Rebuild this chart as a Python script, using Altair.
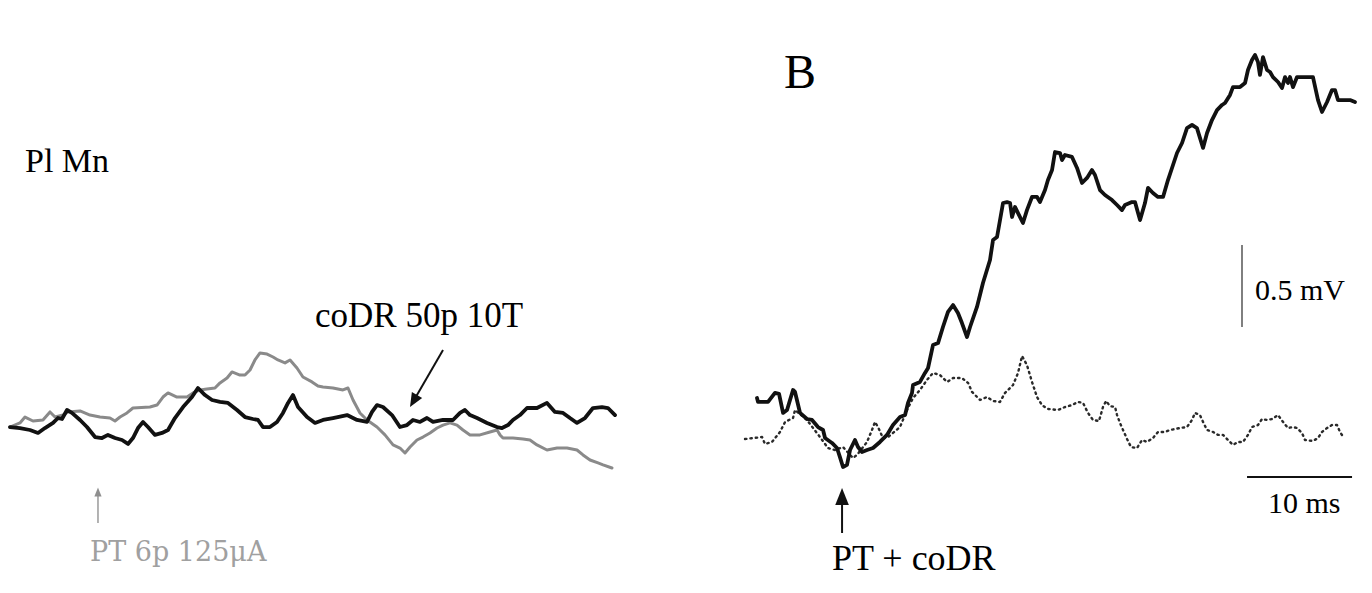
import altair as alt
import pandas as pd

# ---------------- Panel A (time in ms, potential in mV) ----------------
a_black_t = [0, 0.95, 1.90, 2.67, 3.33, 4.10, 4.57, 4.95, 5.43, 5.90, 6.67, 7.33, 8.10, 8.76, 9.33, 10.0,
             10.67, 11.24, 11.71, 12.19, 12.67, 13.14, 13.81, 14.48, 15.05, 15.71, 16.48, 17.33, 17.90,
             18.57, 19.24, 20.0, 20.76, 21.62, 22.38, 23.14, 23.62, 24.10, 24.76, 25.43, 26.0, 26.48,
             26.95, 27.43, 28.29, 29.05, 29.81, 30.76, 32.10, 33.05, 34.0, 34.48, 34.95, 35.52, 36.38,
             37.14, 37.81, 38.38, 39.05, 39.71, 40.29, 41.24, 42.19, 42.86, 43.33, 43.81, 44.48, 45.43,
             46.38, 46.86, 47.43, 47.90, 48.57, 49.24, 50.19, 51.14, 51.90, 52.67, 53.33, 54.0, 54.76,
             55.52, 56.38, 56.95, 57.62]
a_black_v = [0.018, 0.012, 0, -0.018, 0.012, 0.043, 0.073, 0.067, 0.122, 0.104, 0.061, 0.018, -0.043,
             -0.049, -0.030, -0.049, -0.061, -0.085, -0.049, 0.012, 0.049, 0.018, -0.030, -0.018, 0,
             0.073, 0.140, 0.201, 0.256, 0.213, 0.183, 0.171, 0.165, 0.122, 0.079, 0.067, 0.061, 0.018,
             0.018, 0.049, 0.104, 0.165, 0.213, 0.140, 0.079, 0.043, 0.061, 0.073, 0.091, 0.061, 0.049,
             0.110, 0.152, 0.140, 0.091, 0.018, 0.030, 0.061, 0.049, 0.073, 0.049, 0.061, 0.061, 0.104,
             0.122, 0.091, 0.073, 0.043, 0.018, 0.012, 0.030, 0.061, 0.091, 0.134, 0.134, 0.165, 0.110,
             0.104, 0.073, 0.043, 0.073, 0.134, 0.140, 0.134, 0.091]

a_gray_t = [0, 0.95, 1.43, 2.19, 3.14, 3.81, 4.29, 5.05, 5.52, 6.67, 7.62, 8.57, 9.52, 10.0, 10.48,
            11.14, 11.71, 13.33, 14.0, 14.57, 15.05, 15.90, 16.86, 17.43, 18.10, 18.76, 19.52, 20.0,
            20.67, 21.14, 21.90, 22.38, 22.86, 23.33, 23.81, 24.48, 25.05, 25.52, 26.19, 26.67, 27.33,
            27.90, 28.76, 29.33, 29.81, 30.76, 31.71, 32.19, 32.67, 33.33, 34.0, 34.95, 35.71, 36.48,
            37.14, 37.62, 38.10, 38.76, 39.33, 40.0, 40.67, 41.24, 41.90, 42.57, 43.14, 43.81, 44.76,
            45.71, 46.38, 46.67, 46.95, 47.90, 48.86, 49.52, 50.19, 51.14, 52.10, 53.05, 54.0, 54.57,
            55.24, 56.0, 56.48, 57.33]
a_gray_v = [0.018, 0.043, 0.079, 0.055, 0.061, 0.110, 0.079, 0.091, 0.110, 0.116, 0.091, 0.079, 0.073,
            0.055, 0.079, 0.104, 0.134, 0.140, 0.152, 0.201, 0.226, 0.201, 0.201, 0.226, 0.244, 0.250,
            0.256, 0.287, 0.317, 0.354, 0.335, 0.335, 0.366, 0.427, 0.470, 0.463, 0.445, 0.427, 0.409,
            0.427, 0.378, 0.323, 0.293, 0.268, 0.262, 0.256, 0.244, 0.256, 0.183, 0.104, 0.061, 0.018,
            -0.030, -0.091, -0.110, -0.140, -0.104, -0.061, -0.043, -0.018, 0.012, 0.030, 0.043, 0.030,
            0, -0.030, -0.030, -0.012, 0, -0.030, -0.049, -0.049, -0.055, -0.061, -0.091, -0.122, -0.110,
            -0.110, -0.122, -0.152, -0.183, -0.201, -0.213, -0.232]

# ---------------- Panel B ----------------
b_solid_t = [0, 0.1, 1.05, 1.71, 2.10, 2.48, 2.86, 3.43, 3.62, 4.10, 4.76, 5.24, 5.81, 6.29, 6.48, 7.14,
             7.62, 7.90, 8.19, 8.57, 8.86, 9.33, 9.62, 10.0, 10.48, 11.05, 11.71, 12.38, 12.95, 13.62,
             14.10, 14.38, 14.76, 14.86, 15.52, 16.0, 16.29, 16.76, 17.24, 17.71, 18.19, 18.67, 19.14,
             19.52, 20.0, 20.29, 20.95, 21.52, 22.19, 22.48, 22.86, 23.43, 23.81, 24.10, 24.29, 24.57,
             24.86, 25.33, 25.71, 26.19, 26.67, 26.95, 27.43, 27.71, 28.10, 28.38, 28.86, 29.05, 29.33,
             30.0, 30.48, 30.95, 31.43, 31.90, 32.19, 32.67, 33.14, 33.81, 34.29, 34.76, 35.05, 35.71,
             36.0, 36.29, 36.48, 36.95, 37.24, 37.71, 38.19, 38.67, 39.14, 39.62, 40.0, 40.48, 40.95,
             41.43, 41.90, 42.48, 42.86, 43.33, 43.81, 44.29, 44.57, 45.05, 45.33, 46.0, 46.48, 46.76,
             47.14, 47.43, 47.71, 47.90, 48.19, 48.57, 48.86, 49.14, 49.62, 50.0, 50.29, 50.57, 50.76,
             51.05, 51.43, 52.95, 53.43, 53.81, 54.29, 54.76, 55.05, 55.33, 56.48, 56.95]
b_solid_v = [0.195, 0.171, 0.171, 0.226, 0.220, 0.104, 0.122, 0.244, 0.232, 0.104, 0.067, 0.061, 0.018,
             0, -0.049, -0.079, -0.110, -0.165, -0.226, -0.213, -0.122, -0.061, -0.104, -0.134, -0.122,
             -0.110, -0.073, -0.030, 0.030, 0.079, 0.091, 0.165, 0.226, 0.274, 0.293, 0.348, 0.378,
             0.518, 0.530, 0.628, 0.720, 0.762, 0.713, 0.652, 0.567, 0.628, 0.750, 0.896, 1.037, 1.159,
             1.177, 1.384, 1.390, 1.384, 1.299, 1.360, 1.323, 1.262, 1.341, 1.421, 1.421, 1.390, 1.463,
             1.524, 1.585, 1.695, 1.689, 1.646, 1.677, 1.665, 1.598, 1.506, 1.537, 1.585, 1.555, 1.463,
             1.433, 1.402, 1.372, 1.341, 1.372, 1.390, 1.390, 1.323, 1.280, 1.384, 1.476, 1.445, 1.421,
             1.421, 1.524, 1.616, 1.689, 1.750, 1.841, 1.860, 1.841, 1.720, 1.811, 1.890, 1.951, 1.982,
             1.994, 2.043, 2.091, 2.091, 2.116, 2.195, 2.256, 2.287, 2.244, 2.165, 2.274, 2.195, 2.183,
             2.152, 2.122, 2.085, 2.152, 2.116, 2.152, 2.091, 2.152, 2.152, 2.012, 1.939, 2.000, 2.073,
             2.073, 2.012, 2.012, 2.000]

b_dot_t = [-1.14, 0.48, 0.76, 1.43, 2.19, 2.67, 3.43, 3.62, 4.76, 6.0, 6.76, 7.43, 8.19, 9.14, 9.52,
           10.48, 10.95, 11.24, 11.52, 12.0, 12.48, 12.95, 13.62, 14.29, 14.86, 15.52, 16.19, 16.76,
           17.43, 18.10, 18.67, 19.52, 20.10, 20.48, 21.24, 21.90, 22.48, 23.14, 23.62, 24.38, 24.86,
           25.24, 25.71, 26.19, 26.67, 27.14, 27.71, 28.67, 29.33, 30.0, 30.57, 31.05, 31.52, 32.0,
           32.57, 32.95, 33.24, 33.62, 34.10, 34.29, 34.57, 34.86, 35.24, 35.62, 36.19, 36.67, 37.14,
           37.71, 38.19, 38.86, 39.33, 40.29, 40.95, 41.43, 41.71, 42.19, 42.48, 42.86, 43.43, 43.90,
           44.38, 44.86, 45.33, 45.81, 46.29, 46.76, 47.14, 47.71, 48.10, 48.57, 49.05, 49.62, 50.10,
           50.57, 51.05, 51.43, 51.90, 52.19, 52.95, 53.43, 53.81, 54.29, 54.76, 55.24, 55.52, 55.90]
b_dot_v = [-0.055, -0.043, -0.085, -0.073, -0.012, 0.049, 0.073, 0.122, 0.061, -0.043, -0.110, -0.122,
           -0.104, -0.171, -0.152, -0.073, 0, 0.049, 0.018, -0.049, -0.043, -0.018, 0.018, 0.122, 0.195,
           0.244, 0.305, 0.348, 0.335, 0.293, 0.317, 0.317, 0.287, 0.232, 0.183, 0.201, 0.177, 0.171,
           0.226, 0.274, 0.348, 0.451, 0.396, 0.293, 0.201, 0.152, 0.128, 0.122, 0.140, 0.152, 0.171,
           0.165, 0.104, 0.061, 0.055, 0.140, 0.177, 0.146, 0.140, 0.091, 0.043, 0, -0.055, -0.104,
           -0.110, -0.061, -0.073, -0.049, -0.012, -0.012, 0, 0.012, 0.018, 0.061, 0.104, 0.091, 0.049,
           0, -0.012, -0.030, -0.030, -0.061, -0.091, -0.073, -0.073, -0.030, 0.018, 0.030, 0.067,
           0.061, 0.067, 0.091, 0.049, 0.012, 0.018, 0.012, -0.018, -0.061, -0.067, -0.049, -0.012,
           0.012, 0.030, 0.030, -0.012, -0.049]

# ---------------- Scales ----------------
XA = alt.Scale(domain=[-0.952, 64.381], nice=False, zero=False)
XB = alt.Scale(domain=[-6.762, 58.571], nice=False, zero=False)
YS = alt.Scale(domain=[-0.994, 2.622], nice=False, zero=False)
FONT = "Liberation Serif"


def df(t, v):
    return pd.DataFrame({"t": t, "v": v})


def enc(ch, xs):
    return ch.encode(x=alt.X("t:Q", scale=xs, axis=None), y=alt.Y("v:Q", scale=YS, axis=None))


def trace(t, v, xs, color, width, dash=None):
    kw = dict(color=color, strokeWidth=width, strokeJoin="round", strokeCap="round", clip=False)
    if dash is not None:
        kw["strokeDash"] = dash
    return enc(alt.Chart(df(t, v)).mark_line(**kw), xs)


def label(t, v, text, xs, size, color="black", align="left", font=FONT):
    d = pd.DataFrame({"t": [t], "v": [v], "s": [text]})
    return enc(alt.Chart(d).mark_text(font=font, fontSize=size, color=color, align=align,
                                      baseline="alphabetic"), xs).encode(text="s:N")


def seg(t1, v1, t2, v2, xs, color, width):
    d = pd.DataFrame({"t": [t1], "v": [v1], "t2": [t2], "v2": [v2]})
    return alt.Chart(d).mark_rule(color=color, strokeWidth=width).encode(
        x=alt.X("t:Q", scale=xs, axis=None), y=alt.Y("v:Q", scale=YS, axis=None),
        x2="t2:Q", y2="v2:Q")


def head(t, v, xs, color, size, angle, half=0.8):
    d = pd.DataFrame({"t": [t], "v": [v]})
    shape = f"M0,-1L{half},1L-{half},1Z"
    return enc(alt.Chart(d).mark_point(shape=shape, filled=True, color=color, size=size,
                                       angle=angle, opacity=1, strokeWidth=0), xs)


panel_a = alt.layer(
    trace(a_gray_t, a_gray_v, XA, "#8a8a8a", 3.0),
    trace(a_black_t, a_black_v, XA, "#111111", 3.8),
    label(1.43, 1.573, "Pl Mn", XA, 34),
    label(29.05, 0.628, "coDR 50p 10T", XA, 35),
    seg(41.24, 0.488, 38.43, 0.177, XA, "#111111", 2),
    head(38.43, 0.177, XA, "#111111", 196, 210, 0.85),
    seg(8.38, -0.567, 8.38, -0.378, XA, "#9a9a9a", 1.5),
    head(8.38, -0.378, XA, "#8f8f8f", 81, 0, 0.8),
    label(7.62, -0.799, "PT 6p 125\u03bcA", XA, 27, color="#a0a0a0", font="DejaVu Serif"),
).properties(width=686, height=593)

panel_b = alt.layer(
    trace(b_dot_t, b_dot_v, XB, "#2a2a2a", 2.4, dash=[1.4, 4.0]),
    trace(b_solid_t, b_solid_v, XB, "#111111", 3.8),
    label(4.10, 2.085, "B", XB, 48, align="center"),
    seg(46.19, 1.128, 46.19, 0.628, XB, "#555555", 1.5),
    label(47.43, 0.793, "0.5 mV", XB, 30),
    seg(46.67, -0.287, 56.67, -0.287, XB, "#111111", 2),
    label(48.67, -0.506, "10 ms", XB, 30),
    seg(8.10, -0.628, 8.10, -0.405, XB, "#111111", 2),
    head(8.10, -0.405, XB, "#111111", 289, 0, 0.8),
    label(7.14, -0.854, "PT + coDR", XB, 36),
).properties(width=686, height=593)

chart = alt.hconcat(panel_a, panel_b, spacing=0).properties(
    padding=0, background="white"
).configure_view(stroke=None).configure_concat(spacing=0)

chart.save("out.html", embed_options={"renderer": "svg", "actions": False})
